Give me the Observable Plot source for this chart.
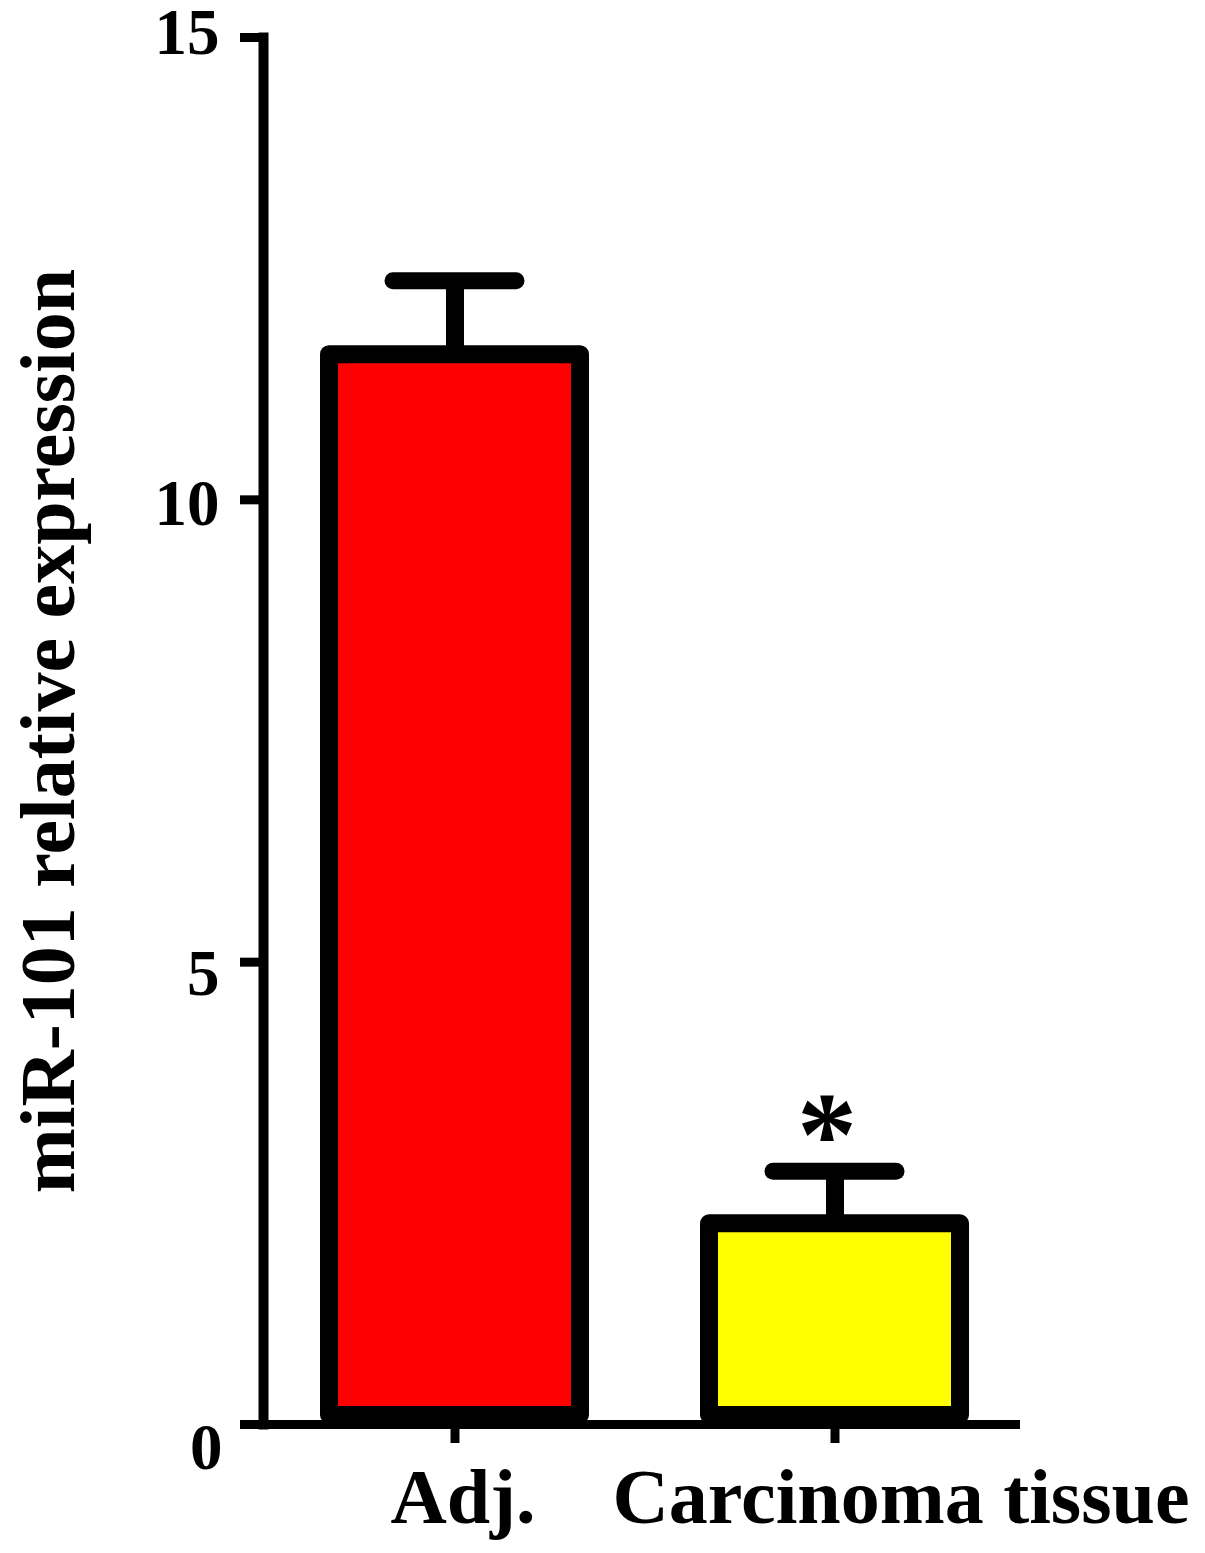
<!DOCTYPE html>
<html>
<head>
<meta charset="utf-8">
<script src="https://cdn.jsdelivr.net/npm/d3@7"></script>
<script src="https://cdn.jsdelivr.net/npm/@observablehq/plot@0.6"></script>
<style>
  html, body { margin: 0; padding: 0; background: #ffffff; }
  #chart svg { display: block; }
</style>
</head>
<body>
<div id="chart"></div>
<script>
// ---- data ----
const categories = ["Adj.", "Carcinoma tissue"];
const means = [11.57, 2.17];
const errors = [0.80, 0.57];
const barColors = ["#ff0000", "#ffff00"];
const significance = ["", "*"];
const yTicks = [0, 5, 10, 15];
const yLabel = "miR-101 relative expression";

const rows = categories.map((c, i) => ({
  category: c, mean: means[i], err: errors[i], color: barColors[i], sig: significance[i]
}));

const serif = "'Liberation Serif', 'Times New Roman', Times, serif";
const tickLabelOffsets = {15: -4, 10: 4, 5: 12, 0: 24};
const xLabelOffsets = {"Adj.": 8, "Carcinoma tissue": 66};

const chart = Plot.plot({
  width: 1205,
  height: 1553,
  marginTop: 37,
  marginBottom: 129,
  marginLeft: 263,
  marginRight: 185,
  style: {background: "#ffffff", fontFamily: serif, fontWeight: "bold", color: "#000"},
  x: {domain: categories, paddingInner: 0.339, paddingOuter: 0.164, align: 0.524, axis: null},
  y: {domain: [0, 15], axis: null},
  marks: [
    Plot.barY(rows, {
      x: "category", y: "mean", fill: "color",
      stroke: "#000", strokeWidth: 18, strokeLinejoin: "round", insetBottom: 9
    }),
    Plot.ruleX(rows, {
      x: "category", y1: "mean", y2: d => d.mean + d.err,
      stroke: "#000", strokeWidth: 18
    }),
    Plot.tickY(rows, {
      x: "category", y: d => d.mean + d.err,
      stroke: "#000", strokeWidth: 17, strokeLinecap: "round", insetLeft: 64, insetRight: 64
    }),
    Plot.text(rows.filter(d => d.sig), {
      x: "category", y: d => d.mean + d.err, text: "sig",
      fontSize: 120, fontWeight: "bold", fill: "#000", dx: -8, dy: -35
    }),
    // x-axis line
    Plot.ruleY([0], {stroke: "#000", strokeWidth: 9}),
    // y-axis line
    Plot.frame({anchor: "left", stroke: "#000", strokeWidth: 10, strokeLinecap: "square"}),
    // y ticks
    Plot.axisY(yTicks, {tickSize: 23, strokeWidth: 9, tickFormat: () => "", stroke: "#000", label: null}),
    // y tick labels
    ...yTicks.map(t => Plot.axisY([t], {
      tickSize: 0, tickPadding: 44, fontSize: 65, fontWeight: "bold",
      fill: "#000", dy: tickLabelOffsets[t], dx: t === 0 ? 3 : 0,
      tickFormat: d => String(d), label: null
    })),
    // x ticks
    Plot.axisX(categories, {tickSize: 19, strokeWidth: 9, tickFormat: () => "", stroke: "#000", label: null}),
    // x tick labels
    ...categories.map(c => Plot.axisX([c], {
      tickSize: 0, tickPadding: 43, fontSize: 78, fontWeight: "bold",
      fill: "#000", dx: xLabelOffsets[c], label: null
    })),
    // y title
    Plot.text([yLabel], {
      frameAnchor: "left", rotate: -90, dx: -214, text: d => d,
      fontSize: 78, fontWeight: "bold", fill: "#000",
      textAnchor: "middle", lineAnchor: "middle"
    })
  ]
});

document.getElementById("chart").appendChild(chart);
</script>
</body>
</html>
